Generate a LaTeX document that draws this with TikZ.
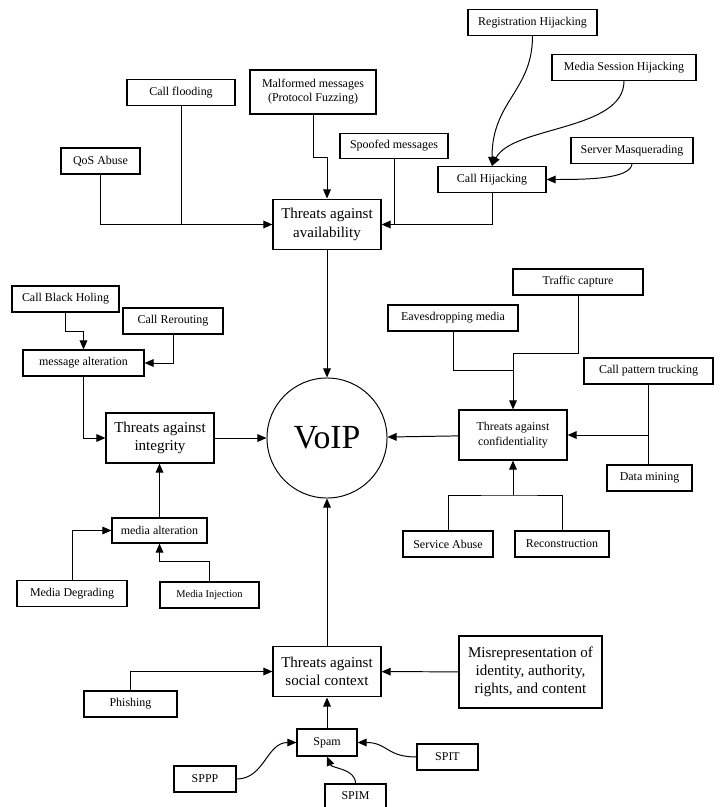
\documentclass[tikz,border=0pt]{standalone}
\usepackage{fontspec}
\setmainfont{Liberation Serif}
\usetikzlibrary{arrows.meta, positioning}

\begin{document}
\begin{tikzpicture}[x=0.025cm,y=-0.025cm,>={Triangle[length=6.5pt,width=5.5pt]},
        line width=0.7pt,
        every node/.style={inner sep=1pt},
        leaf/.style={draw, line width=0.8pt, font=\fontsize{8.5}{10}\selectfont, minimum height=0.65cm, align=center},
        threat/.style={draw, line width=0.8pt, font=\fontsize{10.7}{13}\selectfont, minimum width=2.7cm, minimum height=1.27cm, align=center},
        core/.style={draw, circle, minimum size=3cm, font=\fontsize{24}{28}\selectfont}]

      \useasboundingbox (0,0) rectangle (720,807);

      \node[core] (voip) at (327,438) {VoIP};

      % availability
      \node[threat] (avail) at (327,224.5) {Threats against\\availability};
      \node[leaf, minimum width=1.975cm] (qos) at (100.5,161) {QoS Abuse};
      \node[leaf, minimum width=2.7cm] (flood) at (181,92.5) {Call flooding};
      \node[leaf, minimum width=3.15cm, minimum height=1.1cm] (malf) at (313,92) {Malformed messages\\(Protocol Fuzzing)};
      \node[leaf, minimum width=2.7cm, minimum height=0.625cm] (spoof) at (394,146) {Spoofed messages};
      \node[leaf, minimum width=2.7cm] (hijack) at (492,179.5) {Call Hijacking};
      \node[leaf, minimum width=3.225cm] (reg) at (532.5,22.5) {Registration Hijacking};
      \node[leaf, minimum width=3.6cm] (medsess) at (624,67.5) {Media Session Hijacking};
      \node[leaf, minimum width=3.05cm] (masq) at (632,150.5) {Server Masquerading};

      % integrity
      \node[threat, minimum height=1.25cm] (integ) at (160,438) {Threats against\\integrity};
      \node[leaf, minimum width=2.675cm] (bhole) at (65.5,299) {Call Black Holing};
      \node[leaf, minimum width=2.5cm] (reroute) at (173,321) {Call Rerouting};
      \node[leaf, minimum width=3.025cm] (msgalt) at (83.5,363) {message alteration};
      \node[leaf, minimum width=2.375cm, minimum height=0.625cm] (medalt) at (159.5,530.5) {media alteration};
      \node[leaf, minimum width=2.75cm] (degr) at (72,593.5) {Media Degrading};
      \node[leaf, minimum width=2.475cm, font=\fontsize{7.4}{9}\selectfont] (inject) at (209.5,595) {Media Injection};

      % confidentiality
      \node[threat, minimum height=1.25cm, font=\fontsize{8.5}{11}\selectfont] (conf) at (513,435) {Threats against\\confidentiality};
      \node[leaf, minimum width=3.25cm] (traffic) at (578,282) {Traffic capture};
      \node[leaf, minimum width=3.25cm] (eaves) at (453,318) {Eavesdropping media};
      \node[leaf, minimum width=3.225cm] (cpt) at (648.5,371) {Call pattern trucking};
      \node[leaf, minimum width=2.125cm] (dmin) at (649.5,478) {Data mining};
      \node[leaf, minimum width=2.25cm] (sabuse) at (448,544) {Service Abuse};
      \node[leaf, minimum width=2.35cm] (recon) at (562,544) {Reconstruction};
      \coordinate (ctop) at (513,370);
      \coordinate (cmid) at (649,435);
      \coordinate (cbot) at (513,495);

      % social context
      \node[threat] (social) at (327,671.5) {Threats against\\social context};
      \node[threat, minimum width=3.575cm, minimum height=1.8cm] (misrep) at (530.5,672) {Misrepresentation of\\identity, authority,\\rights, and content};
      \node[leaf, minimum width=2.325cm] (phish) at (130.5,704) {Phishing};
      \node[leaf, minimum width=1.5cm, minimum height=0.675cm] (spam) at (327,742.5) {Spam};
      \node[leaf, minimum width=1.55cm] (sppp) at (205,779) {SPPP};
      \node[leaf, minimum width=1.525cm, minimum height=0.6cm] (spim) at (355.5,796) {SPIM};
      \node[leaf, minimum width=1.525cm] (spit) at (447.5,757) {SPIT};

      \draw[->] (qos.south) |- (avail.west);
      \draw (flood.south) -- (flood.south |- avail.west);
      \draw[->] (malf.south) -- ++(0,43) -| (avail.north);
      \draw[->] (hijack.south) |- (avail.east);
      \draw (spoof.south) -- (spoof.south |- avail.east);
      \draw[->] (reg.south) .. controls +(0,55) and +(0,-65) .. (hijack.north);
      \draw[->] (medsess.south) .. controls +(0,50) and +(20,-40) .. (hijack.north);
      \draw[->] (masq.south) .. controls +(-2,15) and +(40,0) .. (hijack.east);
      \draw[->] (avail) -- (voip);

      \draw[->] (bhole.south) -- ++(0,19) -| (msgalt.north);
      \draw[->] (reroute.south) |- (msgalt.east);
      \draw[->] (msgalt.south) |- (integ.west);
      \draw[->] (medalt.north) -- (medalt.north |- integ.south);
      \draw[->] (degr.north) |- (medalt.west);
      \draw[->] (inject.north) -- ++(0,-20) -| (medalt.south);
      \draw[->] (integ) -- (voip);

      \draw[->] (traffic.south) -- ++(0,58) -| (conf.north);
      \draw (eaves.south) |- (ctop);
      \draw (cpt.south) -- (cpt.south |- dmin.north);
      \draw[->] (cmid) -- (conf.east);
      \draw (sabuse.north) |- (cbot) -| (recon.north);
      \draw[->] (cbot) -- (conf.south);
      \draw[->] (conf) -- (voip);

      \draw[->] (phish.north) |- (social.west);
      \draw[->] (misrep) -- (social);
      \draw[->] (spam) -- (social);
      \draw[->] (sppp.east) .. controls +(28,0) and +(-30,0) .. (spam.west);
      \draw[->] (spim.north) .. controls +(0,-15) and +(5,12) .. (spam.south);
      \draw[->] (spit.west) .. controls +(-30,0) and +(30,0) .. (spam.east);
      \draw[->] (social) -- (voip);
    \end{tikzpicture}
\end{document}
